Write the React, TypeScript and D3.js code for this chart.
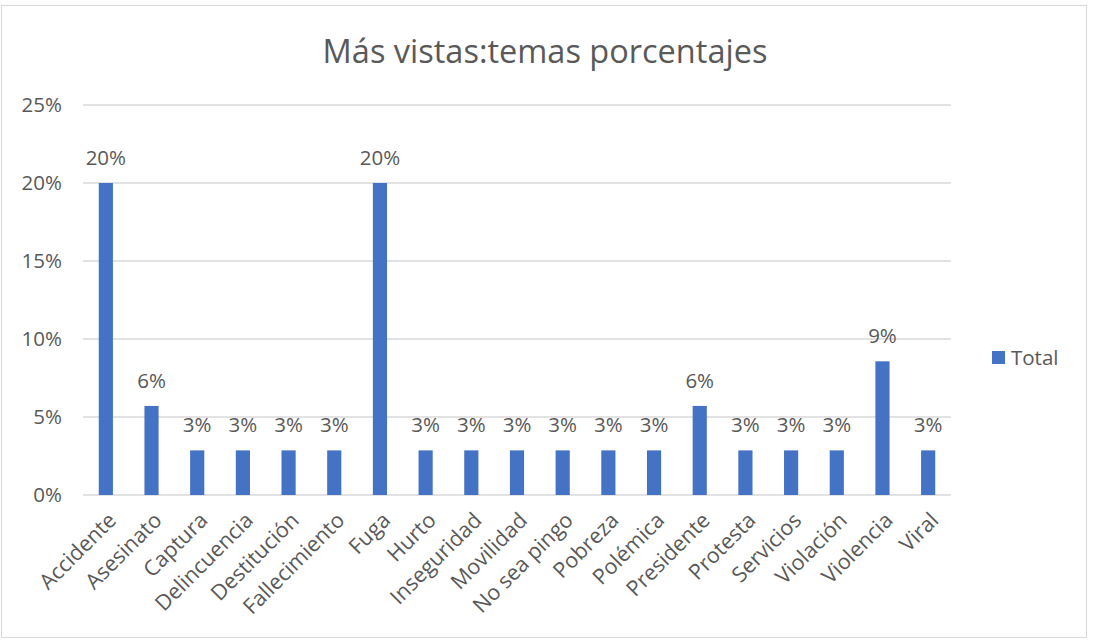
import React from "react";
import * as d3 from "d3";

const categories = ["Accidente","Asesinato","Captura","Delincuencia","Destitución","Fallecimiento","Fuga","Hurto","Inseguridad","Movilidad","No sea pingo","Pobreza","Polémica","Presidente","Protesta","Servicios","Violación","Violencia","Viral"];
const values = [0.2,0.0571,0.0286,0.0286,0.0286,0.0286,0.2,0.0286,0.0286,0.0286,0.0286,0.0286,0.0286,0.0571,0.0286,0.0286,0.0286,0.0857,0.0286];
const yTicks = [0,0.05,0.1,0.15,0.2,0.25];
const title = "Más vistas:temas porcentajes";
const seriesName = "Total";

const W = 1094, H = 641;
const FONT = "'Open Sans', sans-serif";
const TXT = "#595959";
const BLUE = "#4472C4";
const FS = 20.5;

export default function App() {
  const x = d3.scaleBand<string>().domain(categories).range([83, 951]).paddingInner(0.69).paddingOuter(0.345);
  const y = d3.scaleLinear().domain([0, 0.25]).range([495, 105]);
  const fmt = d3.format(".0%");
  return (
    <svg width={W} height={H} style={{ position: "absolute", left: 0, top: 0 }}>
      <rect x={1.5} y={5.5} width={1085} height={632} fill="#fff" stroke="#D9D9D9" strokeWidth={1} />
      <text x={545} y={63} textAnchor="middle" fontFamily={FONT} fontSize={32.5} fill={TXT}>{title}</text>
      {yTicks.map((t) => (
        <g key={t}>
          <line x1={83} x2={951} y1={y(t)} y2={y(t)} stroke="#D9D9D9" strokeWidth={1.3} />
          <text x={62} y={y(t)} dy="0.35em" textAnchor="end" fontFamily={FONT} fontSize={FS} fill={TXT}>{fmt(t)}</text>
        </g>
      ))}
      {categories.map((c, i) => {
        const bx = x(c)!;
        const bw = x.bandwidth();
        const cx = bx + bw / 2;
        return (
          <g key={c}>
            <rect x={bx} y={y(values[i])} width={bw} height={y(0) - y(values[i])} fill={BLUE} />
            <text x={cx} y={y(values[i]) - 18} textAnchor="middle" fontFamily={FONT} fontSize={FS} fill={TXT}>{fmt(values[i])}</text>
            <text transform={`translate(${cx + 1},${511}) rotate(-45)`} textAnchor="end" dy="0.7em" fontFamily={FONT} fontSize={21.5} fill={TXT}>{c}</text>
          </g>
        );
      })}
      <rect x={992} y={351} width={13} height={13} fill={BLUE} />
      <text x={1011} y={357.5} dy="0.35em" fontFamily={FONT} fontSize={FS} fill={TXT}>{seriesName}</text>
    </svg>
  );
}
